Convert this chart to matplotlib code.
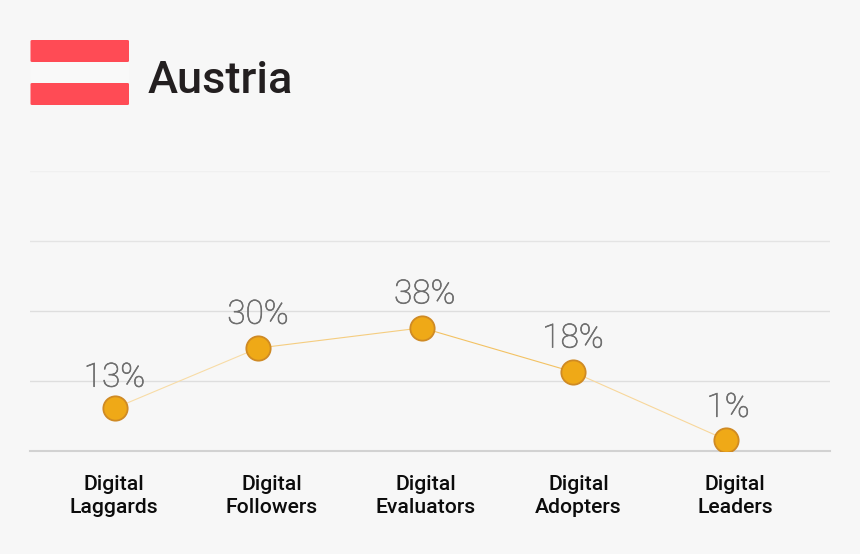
import matplotlib
matplotlib.use("Agg")
from matplotlib import pyplot as plt
from matplotlib import patheffects
from matplotlib.patches import FancyBboxPatch

W, H = 860, 554
BG = "#f7f7f7"

categories = ["Digital\nLaggards", "Digital\nFollowers", "Digital\nEvaluators", "Digital\nAdopters", "Digital\nLeaders"]
shares = ["13%", "30%", "38%", "18%", "1%"]
# the picture does not plot the shares to scale, so heights are read off the gridlines
heights = [6.1, 14.7, 17.6, 11.3, 1.6]
point_x = [114.5, 258, 422, 573, 726]
label_x = [114, 272, 425.5, 578.5, 735]
grid_levels = [10, 20, 30, 40]

plt.rcParams["font.family"] = ["Roboto", "DejaVu Sans"]

fig = plt.figure(figsize=(W / 100, H / 100), dpi=100, facecolor=BG)
ax = fig.add_axes([30 / W, 1 - 451 / H, 800 / W, 280 / H], facecolor="none")
ax.set_xlim(30, 830)
ax.set_ylim(0, 40)

# gridlines, top one nearly invisible
for lev, col in zip(grid_levels, ["#dedede", "#dedede", "#e4e4e4", "#f0f0f0"]):
    ax.axhline(lev, color=col, lw=1, zorder=1)

# each segment has its own tint in the original
seg_cols = ["#f8dca6", "#f5cd80", "#f3c263", "#f7d79b"]
for i, col in enumerate(seg_cols):
    ax.plot(point_x[i:i + 2], heights[i:i + 2], color=col, lw=0.8, zorder=2)
ax.plot(point_x, heights, ls="none", marker="o", ms=17.5, mfc="#efa917", mec="#cf8a24", mew=1.3, zorder=3)

# nudges in points, the labels are not exactly centred over the dots
nudge_x = [0, 0, 2, 0, 1.5]
nudge_y = [10.5, 12.5, 12.5, 12.5, 11.5]
for x, y, s, dx, dy in zip(point_x, heights, shares, nudge_x, nudge_y):
    t = ax.annotate(s, (x, y), xytext=(dx, dy), textcoords="offset points", ha="center", va="bottom",
                    fontsize=24, fontweight="light", color="#6e6e6e")
    # installed light weight renders too thin
    t.set_path_effects([patheffects.withStroke(linewidth=0.45, foreground="#6e6e6e")])

for s in ["top", "left", "right"]:
    ax.spines[s].set_visible(False)
ax.spines["bottom"].set_color("#d2d2d2")
ax.spines["bottom"].set_linewidth(1.5)
ax.set_yticks([])
ax.set_xticks(label_x)
ax.set_xticklabels(categories, fontsize=15.2, fontweight="medium", color="#0c0c0c", linespacing=1.3)
ax.tick_params(axis="x", length=0, pad=17)

# flag, in figure pixels
def flag_band(y0, y1, col):
    fig.add_artist(FancyBboxPatch((30.5 / W, 1 - y1 / H), 98.5 / W, (y1 - y0) / H,
                                  boxstyle="round,pad=0,rounding_size=0.002",
                                  transform=fig.transFigure, fc=col, ec="none"))

flag_band(40, 62, "#ff4b55")
flag_band(62, 83, "#f9f9f9")
flag_band(83, 105, "#ff4b55")

fig.text(148 / W, 1 - 93 / H, "Austria", fontsize=32.5, fontweight="medium", color="#231f20", ha="left", va="baseline")

fig.savefig("out.png", dpi=100, facecolor=BG)
